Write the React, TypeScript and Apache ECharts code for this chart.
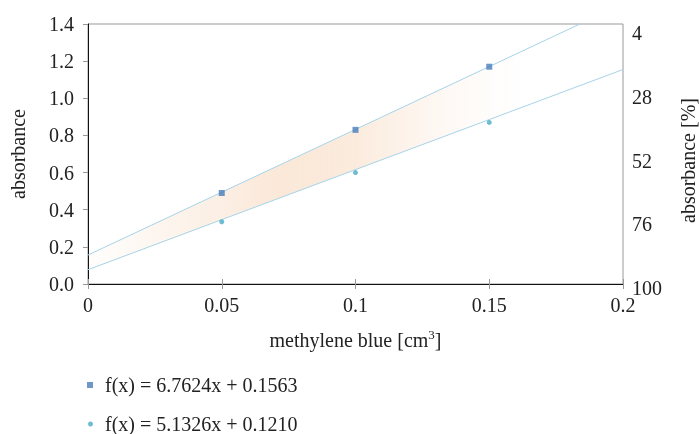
import React, { useEffect, useRef } from "react";
import * as echarts from "echarts";

const xValues = [0.05, 0.1, 0.15];
const seriesA = [0.49, 0.83, 1.17];
const seriesB = [0.335, 0.6, 0.87];
const nameA = "f(x) = 6.7624x + 0.1563";
const nameB = "f(x) = 5.1326x + 0.1210";
const trendX = [0, 0.2];
const trendA = [0.156, 1.509];
const trendB = [0.077, 1.155];
const bandX = [0, 0.162];
const bandTop = [0.156, 1.25];
const bandBottom = [0.077, 0.95];
const rightTicks = [4, 28, 52, 76, 100];

const FONT = "Liberation Serif";
const FS = 20;
const TXT = "#222";

export default function App() {
  const ref = useRef<HTMLDivElement>(null);
  useEffect(() => {
    if (!ref.current) return;
    const chart = echarts.init(ref.current, undefined, { renderer: "svg" });
    const grad = new echarts.graphic.LinearGradient(0, 0, 1, 0, [
      { offset: 0, color: "rgba(242,190,145,0.02)" },
      { offset: 0.45, color: "rgba(242,190,145,0.36)" },
      { offset: 0.62, color: "rgba(242,190,145,0.30)" },
      { offset: 0.82, color: "rgba(242,190,145,0.10)" },
      { offset: 1, color: "rgba(242,190,145,0)" },
    ]);
    chart.setOption({
      animation: false,
      textStyle: { fontFamily: FONT },
      grid: [
        { left: 88, right: 76, top: 24, height: 260, show: true, borderColor: "#999", borderWidth: 1, containLabel: false, outerBoundsMode: "none" },
        { left: 88, right: 76, top: 33, height: 255, show: false, containLabel: false, outerBoundsMode: "none" },
      ],
      xAxis: [
        {
          type: "value", gridIndex: 0, min: 0, max: 0.2, interval: 0.05,
          name: "methylene blue [cm{sup|3}]", nameLocation: "middle", nameGap: 44,
          nameTextStyle: { fontFamily: FONT, fontSize: FS, color: TXT, rich: { sup: { fontFamily: FONT, fontSize: 13, verticalAlign: "top", padding: [0, 0, 11, 0], color: TXT } } },
          axisLine: { show: true, onZero: false, lineStyle: { color: "#111", width: 1 } },
          axisTick: { show: true, length: 5, lineStyle: { color: "#999" } },
          axisLabel: { margin: 11, fontFamily: FONT, fontSize: FS, color: TXT, formatter: (v: number) => String(+v.toFixed(2)) },
          splitLine: { show: false },
        },
        {
          type: "value", gridIndex: 0, min: 0, max: 0.2, interval: 0.05, position: "bottom", offset: 0,
          axisLine: { show: false, onZero: false }, axisTick: { show: true, inside: true, length: 5, lineStyle: { color: "#999" } },
          axisLabel: { show: false }, splitLine: { show: false },
        },
        { type: "value", gridIndex: 1, min: 0, max: 1, show: false },
      ],
      yAxis: [
        {
          type: "value", gridIndex: 0, min: 0, max: 1.4, interval: 0.2,
          name: "absorbance", nameLocation: "middle", nameGap: 60, nameRotate: 90,
          nameTextStyle: { fontFamily: FONT, fontSize: FS, color: TXT },
          axisLine: { show: true, onZero: false, lineStyle: { color: "#111" } },
          axisTick: { show: true, length: 5, lineStyle: { color: "#999" } },
          axisLabel: { margin: 14, fontFamily: FONT, fontSize: FS, color: TXT, formatter: (v: number) => v.toFixed(1) },
          splitLine: { show: false },
        },
        {
          type: "value", gridIndex: 1, position: "right", inverse: true, min: rightTicks[0], max: rightTicks[rightTicks.length - 1], interval: 24,
          name: "absorbance [%]", nameLocation: "middle", nameGap: 55, nameRotate: 90,
          nameTextStyle: { fontFamily: FONT, fontSize: FS, color: TXT },
          axisLine: { show: false }, axisTick: { show: false },
          axisLabel: { margin: 9, align: "left", fontFamily: FONT, fontSize: FS, color: TXT },
          splitLine: { show: false },
        },
      ],
      legend: [
        {
          data: [{ name: nameA, icon: "rect" }], left: 87, top: 375, padding: 0, itemWidth: 6, itemHeight: 6,
          textStyle: { fontFamily: FONT, fontSize: FS, color: TXT, padding: [0, 0, 0, 7] }, selectedMode: false,
        },
        {
          data: [{ name: nameB, icon: "circle" }], left: 88, top: 414, padding: 0, itemWidth: 5, itemHeight: 5,
          textStyle: { fontFamily: FONT, fontSize: FS, color: TXT, padding: [0, 0, 0, 7] }, selectedMode: false,
        },
      ],
      series: [
        {
          type: "custom", xAxisIndex: 0, yAxisIndex: 0, z: 1, silent: true,
          data: bandX.map((x, i) => [x, bandTop[i], bandBottom[i]]),
          renderItem: (params: any, api: any) => {
            if (params.dataIndex !== 0) return null;
            const pts: number[][] = [];
            for (let i = 0; i < bandX.length; i++) pts.push(api.coord([bandX[i], bandTop[i]]));
            for (let i = bandX.length - 1; i >= 0; i--) pts.push(api.coord([bandX[i], bandBottom[i]]));
            return { type: "polygon", shape: { points: pts }, style: { fill: grad } };
          },
        },
        {
          type: "line", name: "trendA", xAxisIndex: 0, yAxisIndex: 0, z: 2, symbol: "none", clip: true, silent: true,
          data: trendX.map((x, i) => [x, trendA[i]]), lineStyle: { color: "#a5d3e8", width: 1 },
        },
        {
          type: "line", name: "trendB", xAxisIndex: 0, yAxisIndex: 0, z: 2, symbol: "none", clip: true, silent: true,
          data: trendX.map((x, i) => [x, trendB[i]]), lineStyle: { color: "#a5d3e8", width: 1 },
        },
        {
          type: "scatter", name: nameA, xAxisIndex: 0, yAxisIndex: 0, z: 3, symbol: "rect", symbolSize: 6,
          itemStyle: { color: "#4a7dba" }, data: xValues.map((x, i) => [x, seriesA[i]]),
        },
        {
          type: "scatter", name: nameB, xAxisIndex: 0, yAxisIndex: 0, z: 3, symbol: "circle", symbolSize: 5,
          itemStyle: { color: "#4aabc6" }, data: xValues.map((x, i) => [x, seriesB[i]]),
        },
      ],
    });
    return () => chart.dispose();
  }, []);
  return <div ref={ref} style={{ position: "fixed", left: 0, top: 0, width: 699, height: 434 }} />;
}
